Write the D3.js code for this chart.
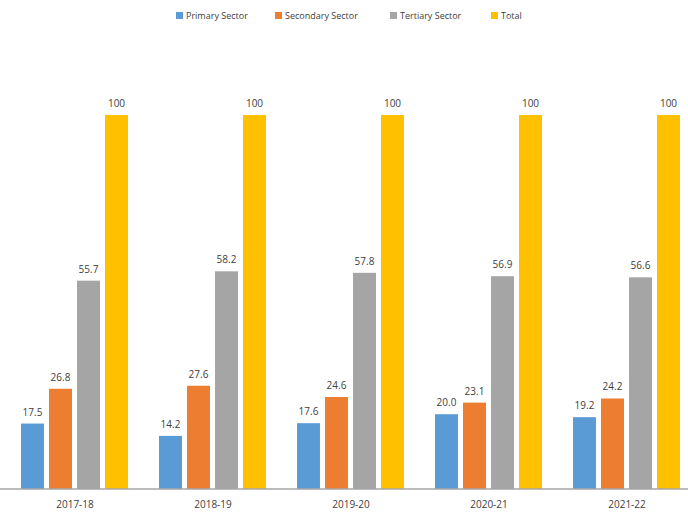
<!DOCTYPE html>
<html>
<head>
<meta charset="utf-8">
<script src="https://cdn.jsdelivr.net/npm/d3@7"></script>
<style>
	body { margin: 0; background: #fff; }
	text { font-family: "Open Sans", "Liberation Sans", sans-serif; fill: #404040; }
</style>
</head>
<body>
<svg id="chart" width="688" height="515"></svg>
<script>
'use strict';

var years     = ['2017-18', '2018-19', '2019-20', '2020-21', '2021-22'];
var series    = ['Primary Sector', 'Secondary Sector', 'Tertiary Sector', 'Total'];
var primary   = [17.5, 14.2, 17.6, 20.0, 19.2];
var secondary = [26.8, 27.6, 24.6, 23.1, 24.2];
var tertiary  = [55.7, 58.2, 57.8, 56.9, 56.6];
var total     = [100, 100, 100, 100, 100];
var labels    = [
	['17.5', '14.2', '17.6', '20.0', '19.2'],
	['26.8', '27.6', '24.6', '23.1', '24.2'],
	['55.7', '58.2', '57.8', '56.9', '56.6'],
	['100', '100', '100', '100', '100']
];
var colors    = ['#5b9bd5', '#ed7d31', '#a5a5a5', '#ffc000'];

var values = [primary, secondary, tertiary, total];

var svg = d3.select('#chart');

var x = d3.scaleBand()
	.domain(years)
	.range([6, 696])
	.paddingInner(0)
	.paddingOuter(0);

var x1 = d3.scaleBand()
	.domain(series)
	.range([15, 122])
	.paddingInner(0.18);

var y = d3.scaleLinear()
	.domain([0, 100])
	.range([489, 115]);

// bars
var groups = svg.selectAll('.group')
	.data(years)
	.enter().append('g')
		.attr('class', 'group')
		.attr('transform', function (d) { return 'translate(' + x(d) + ',0)'; });

groups.each(function (yr, i) {
	var g = d3.select(this);

	series.forEach(function (s, j) {
		var v = values[j][i];

		g.append('rect')
			.attr('x', x1(s))
			.attr('y', y(v))
			.attr('width', x1.bandwidth())
			.attr('height', y(0) - y(v))
			.attr('fill', colors[j]);

		g.append('text')
			.attr('x', x1(s) + x1.bandwidth() / 2)
			.attr('y', y(v) - 8)
			.attr('text-anchor', 'middle')
			.style('font-size', '10px')
			.text(labels[j][i]);
	});
});

// axis
var axis = svg.append('g')
	.attr('transform', 'translate(0,' + y(0) + ')')
	.call(d3.axisBottom(x).tickSize(0).tickPadding(12));

axis.select('.domain')
	.attr('stroke', '#a6a6a6')
	.attr('stroke-width', 1.5)
	.attr('d', 'M0,0H688');

axis.selectAll('text')
	.style('font-size', '10px')
	.attr('fill', '#404040');

// legend
var legendX = [176, 275, 390, 491];

var legend = svg.selectAll('.legend')
	.data(series)
	.enter().append('g')
		.attr('class', 'legend')
		.attr('transform', function (d, i) { return 'translate(' + legendX[i] + ',16)'; });

legend.append('rect')
	.attr('x', 0)
	.attr('y', -4)
	.attr('width', 7)
	.attr('height', 7)
	.attr('fill', function (d, i) { return colors[i]; });

legend.append('text')
	.attr('x', 10)
	.attr('y', 3)
	.style('font-size', '9px')
	.text(function (d) { return d; });
</script>
</body>
</html>
